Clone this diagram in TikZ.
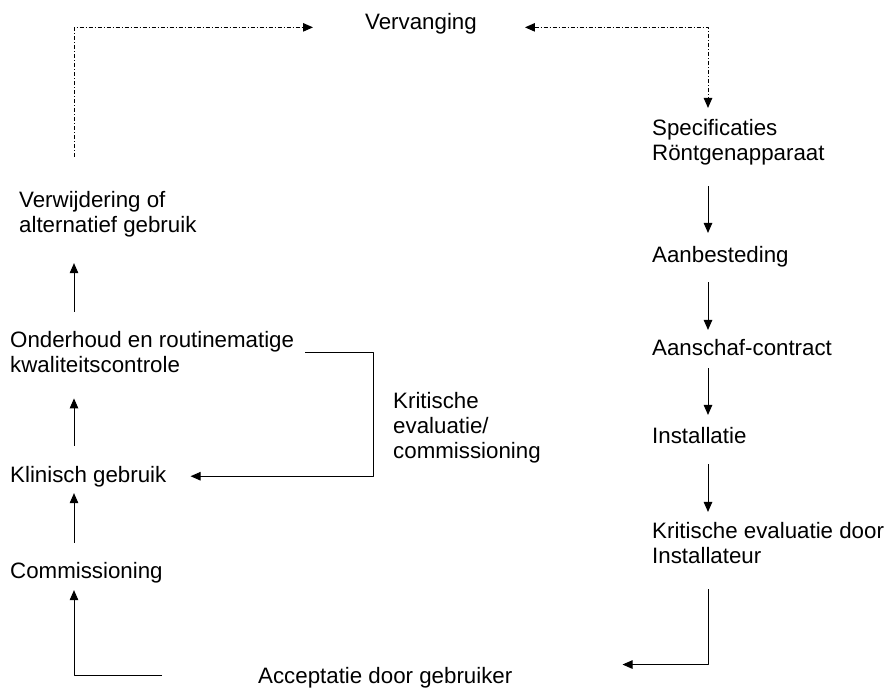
\documentclass[tikz,border=0pt]{standalone}
\usepackage{fontspec}
\setmainfont{Liberation Sans}
\usetikzlibrary{arrows.meta}

\tikzset{
  stage/.style={anchor=base west, inner sep=0pt, align=left,
    font=\fontsize{22.3}{25}\selectfont},
  flow/.style={->, line width=1pt},
  dashdot/.style={dash pattern=on 4pt off 2pt on 1pt off 2pt}
}

\begin{document}
\begin{tikzpicture}[x=1pt,y=-1pt,>={Triangle[length=10pt,width=8.5pt]},line join=bevel]
\useasboundingbox (0,0) rectangle (887,688);

\coordinate (colL) at (74,0);
\coordinate (colR) at (708,0);

% Node: top
\node[stage] (verv) at (365,30) {Vervanging};

% Node: right column (base = last line)
\node[stage] (spec) at (652,160) {Specificaties\\Röntgenapparaat};
\node[stage] (aanb) at (652,262) {Aanbesteding};
\node[stage] (aansch) at (652,355) {Aanschaf-contract};
\node[stage] (inst) at (652,443) {Installatie};
\node[stage] (krit) at (652,563) {Kritische evaluatie door\\Installateur};

% Node: bottom
\node[stage] (accept) at (258,683) {Acceptatie door gebruiker};

% Node: left column
\node[stage] (comm) at (10,578) {Commissioning};
\node[stage] (klin) at (10,482) {Klinisch gebruik};
\node[stage] (onder) at (10,372) {Onderhoud en routinematige\\kwaliteitscontrole};
\node[stage] (verw) at (19,232) {Verwijdering of\\alternatief gebruik};
\node[stage] (kritcomm) at (393,458) {Kritische\\evaluatie/\\commissioning};

% Edge: verw -> verv
\draw [flow,dashdot,shorten <=34pt,shorten >=52pt] (verw.north -| colL) |- (verv.mid west);

% Edge: verv <-> spec
\draw [flow,<->,dashdot,shorten <=48pt,shorten >=10.7pt] (verv.mid east) -| (spec.north -| colR);

% Edge: spec -> aanb -> aansch -> inst -> krit
\draw [flow,shorten <=21.3pt,shorten >=12.7pt] (spec.south -| colR) -- (aanb.north -| colR);
\draw [flow,shorten <=15.3pt,shorten >=8.7pt] (aanb.south -| colR) -- (aansch.north -| colR);
\draw [flow,shorten <=13pt,shorten >=11.7pt] (aansch.south -| colR) -- (inst.north -| colR);
\draw [flow,shorten <=21pt,shorten >=9.7pt] (inst.south -| colR) -- (krit.north -| colR);

% Edge: krit -> accept
\draw [flow,shorten <=26pt,shorten >=110pt] (krit.south -| colR) |- ([yshift=12.7pt]accept.east);

% Edge: accept -> comm
\draw [flow,shorten <=96pt,shorten >=7.3pt] ([yshift=1.7pt]accept.west) -| (comm.south -| colL);

% Edge: comm -> klin -> onder -> verw
\draw [flow,shorten <=18.7pt,shorten >=6.3pt] (comm.north -| colL) -- (klin.south -| colL);
\draw [flow,shorten <=19.7pt,shorten >=26pt] (klin.north -| colL) -- (onder.south -| colL);
\draw [flow,shorten <=18.7pt,shorten >=26.3pt] (onder.north -| colL) -- (verw.south -| colL);

% Edge: onder -> klin (kritische evaluatie)
\draw [flow,shorten >=24pt] ([xshift=11pt,yshift=-22.3pt]onder.north east) -| ([xshift=207pt]klin.east) -- (klin.east);

\end{tikzpicture}
\end{document}
